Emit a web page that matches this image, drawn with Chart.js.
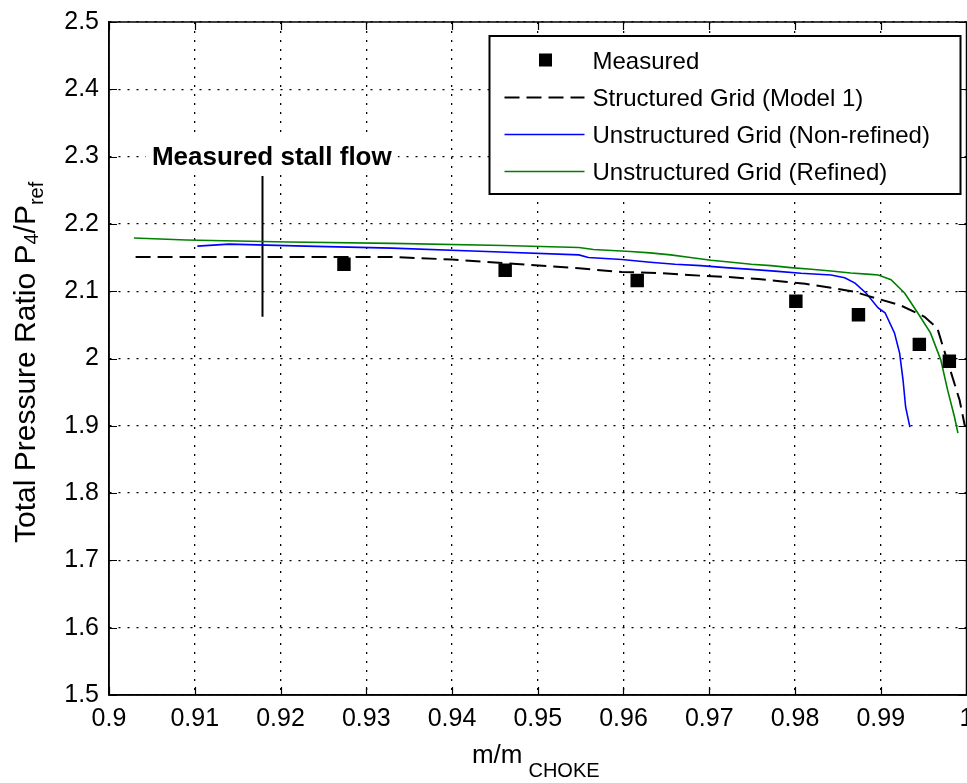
<!DOCTYPE html>
<html>
<head>
<meta charset="utf-8">
<script src="https://cdn.jsdelivr.net/npm/chart.js@4.4.1/dist/chart.umd.min.js"></script>
<style>
html,body{margin:0;padding:0;background:#fff;overflow:hidden;}
canvas{display:block;}
</style>
</head>
<body>
<canvas id="c" width="976" height="783"></canvas>
<script>
// ---- data ----
const xTickValues = [0.9,0.91,0.92,0.93,0.94,0.95,0.96,0.97,0.98,0.99,1.0];
const xTickLabels = ['0.9','0.91','0.92','0.93','0.94','0.95','0.96','0.97','0.98','0.99','1'];
const yTickValues = [1.5,1.6,1.7,1.8,1.9,2.0,2.1,2.2,2.3,2.4,2.5];
const yTickLabels = ['1.5','1.6','1.7','1.8','1.9','2','2.1','2.2','2.3','2.4','2.5'];

const measuredX = [0.9274,0.9462,0.9616,0.9801,0.9874,0.9945,0.9980];
const measuredY = [2.140,2.131,2.116,2.085,2.065,2.021,1.996];

const structX = [0.9031,0.933,0.940,0.948,0.9548,0.9598,0.9641,0.9676,0.9722,0.9757,0.9788,0.9812,0.9842,0.9870,0.9885,0.9923,0.9951,0.9966,0.9972,0.9981,0.9992,0.9998];
const structY = [2.151,2.151,2.147,2.140,2.134,2.1285,2.127,2.124,2.121,2.118,2.114,2.111,2.105,2.099,2.093,2.079,2.062,2.045,2.020,1.983,1.938,1.900];

const nonRefX = [0.9103,0.9140,0.9229,0.9330,0.9440,0.9548,0.9559,0.9598,0.9631,0.9660,0.9690,0.9719,0.9749,0.9780,0.9807,0.9842,0.9858,0.9870,0.9883,0.9897,0.9905,0.9916,0.9922,0.9926,0.9929,0.9934];
const nonRefY = [2.167,2.170,2.167,2.164,2.159,2.154,2.150,2.147,2.143,2.140,2.138,2.135,2.1325,2.1295,2.1266,2.124,2.120,2.112,2.097,2.075,2.068,2.038,2.008,1.968,1.928,1.898];

const refinedX = [0.9029,0.9090,0.9209,0.9330,0.9460,0.9548,0.9565,0.9608,0.9631,0.9655,0.9678,0.9702,0.9726,0.9749,0.9772,0.9795,0.9819,0.9842,0.9865,0.9888,0.9897,0.9912,0.9928,0.9943,0.9958,0.9970,0.9978,0.9986,0.9990];
const refinedY = [2.179,2.176,2.173,2.171,2.168,2.165,2.162,2.159,2.157,2.154,2.150,2.146,2.143,2.140,2.138,2.135,2.1325,2.130,2.127,2.125,2.124,2.117,2.097,2.068,2.038,1.998,1.953,1.913,1.889];

const stallX = [0.9179,0.9179];
const stallY = [2.062,2.271];
const stallLabel = 'Measured stall flow';
const stallLabelPos = {x:0.9050, y:2.288};

const seriesLabels = ['Measured','Structured Grid (Model 1)','Unstructured Grid (Non-refined)','Unstructured Grid (Refined)'];

const zip = (xs, ys) => xs.map((x,i)=>({x:x, y:ys[i]}));

const FONT = "'Liberation Sans', Arial, sans-serif";

// ---- plugins ----
const framePlugin = {
  id:'frame',
  afterDatasetsDraw(chart){
    const {ctx, chartArea:a, scales:{x,y}} = chart;
    ctx.save();
    ctx.strokeStyle = '#000';
    ctx.lineWidth = 1.5;
    ctx.setLineDash([]);
    ctx.strokeRect(a.left, a.top, a.right-a.left, a.bottom-a.top);
    const L = 8;
    ctx.beginPath();
    xTickValues.forEach(v=>{
      const px = Math.round(x.getPixelForValue(v))+0.5;
      ctx.moveTo(px, a.bottom); ctx.lineTo(px, a.bottom-L);
      ctx.moveTo(px, a.top); ctx.lineTo(px, a.top+L);
    });
    yTickValues.forEach(v=>{
      const py = Math.round(y.getPixelForValue(v))+0.5;
      ctx.moveTo(a.left, py); ctx.lineTo(a.left+L, py);
      ctx.moveTo(a.right, py); ctx.lineTo(a.right-L, py);
    });
    ctx.lineWidth = 1.2;
    ctx.stroke();

    // stall annotation text
    const tx = x.getPixelForValue(stallLabelPos.x);
    const ty = y.getPixelForValue(stallLabelPos.y);
    ctx.font = 'bold 26px ' + FONT;
    const tw = ctx.measureText(stallLabel).width;
    ctx.fillStyle = '#fff';
    ctx.fillRect(tx-6, ty-26, tw+12, 36);
    ctx.fillStyle = '#000';
    ctx.textBaseline = 'alphabetic';
    ctx.textAlign = 'left';
    ctx.fillText(stallLabel, tx, ty);
    ctx.restore();
  },
  afterDraw(chart){
    const {ctx, chartArea:a} = chart;
    ctx.save();
    // legend
    const bx = a.right - 477, by = a.top + 14, bw = 471, bh = 158;
    ctx.fillStyle = '#fff';
    ctx.fillRect(bx, by, bw, bh);
    ctx.strokeStyle = '#000';
    ctx.lineWidth = 2;
    ctx.strokeRect(bx, by, bw, bh);
    const rows = chart.data.datasets.filter(d=>!d.hideInLegend);
    ctx.font = '24px ' + FONT;
    ctx.textAlign = 'left';
    ctx.textBaseline = 'alphabetic';
    rows.forEach((d,i)=>{
      const cy = by + 24 + i*37;
      if (d.isMarker){
        ctx.fillStyle = d.backgroundColor;
        ctx.fillRect(bx+56-6.5, cy-6.5, 13, 13);
      } else {
        ctx.beginPath();
        ctx.strokeStyle = d.borderColor;
        ctx.lineWidth = d.borderWidth;
        ctx.setLineDash(d.borderDash || []);
        ctx.moveTo(bx+15, cy+0.5); ctx.lineTo(bx+95, cy+0.5);
        ctx.stroke();
        ctx.setLineDash([]);
      }
      ctx.fillStyle = '#000';
      ctx.fillText(d.label, bx+103, cy+9);
    });

    // y axis title
    ctx.save();
    ctx.translate(35, 543);
    ctx.rotate(-Math.PI/2);
    ctx.fillStyle = '#000';
    let px = 0;
    ctx.font = '30px ' + FONT;
    ctx.fillText('Total Pressure Ratio P', px, 0);
    px += ctx.measureText('Total Pressure Ratio P').width;
    ctx.font = '20px ' + FONT;
    ctx.fillText('4', px, 3);
    px += ctx.measureText('4').width;
    ctx.font = '30px ' + FONT;
    ctx.fillText('/P', px, 0);
    px += ctx.measureText('/P').width;
    ctx.font = '20px ' + FONT;
    ctx.fillText('ref', px, 8);
    ctx.restore();

    // x axis title
    ctx.font = '26px ' + FONT;
    const w1 = ctx.measureText('m/m').width;
    ctx.font = '20px ' + FONT;
    const w2 = ctx.measureText('CHOKE').width;
    const total = w1 + 6 + w2;
    const sx = (a.left + a.right)/2 - 2 - total/2;
    ctx.font = '26px ' + FONT;
    ctx.fillText('m/m', sx, 763);
    ctx.font = '20px ' + FONT;
    ctx.fillText('CHOKE', sx + w1 + 6, 777);
    ctx.restore();
  }
};

const gridOpts = {color:'#000', lineWidth:1.3, drawTicks:false};
const borderOpts = {display:true, color:'#000', width:1.5, dash:[2,7]};

new Chart(document.getElementById('c'), {
  type:'scatter',
  data:{
    datasets:[
      {label:seriesLabels[0], data:zip(measuredX, measuredY), isMarker:true,
       pointStyle:'rect', pointRadius:9.5, pointHoverRadius:9.5, backgroundColor:'#000', borderColor:'#000', borderWidth:0,
       showLine:false, order:0},
      {label:seriesLabels[1], data:zip(structX, structY), showLine:true, borderColor:'#000', borderWidth:2,
       borderDash:[15,7], pointRadius:0, tension:0, fill:false, order:1},
      {label:seriesLabels[2], data:zip(nonRefX, nonRefY), showLine:true, borderColor:'#0000ff', borderWidth:1.6,
       pointRadius:0, tension:0, fill:false, order:1},
      {label:seriesLabels[3], data:zip(refinedX, refinedY), showLine:true, borderColor:'#008000', borderWidth:1.6,
       pointRadius:0, tension:0, fill:false, order:1},
      {label:'stall', data:zip(stallX, stallY), showLine:true, borderColor:'#000', borderWidth:2,
       pointRadius:0, hideInLegend:true, order:1}
    ]
  },
  options:{
    responsive:false,
    animation:false,
    devicePixelRatio:1,
    layout:{padding:{top:22, right:8, left:0, bottom:0}},
    plugins:{legend:{display:false}, tooltip:{enabled:false}},
    scales:{
      x:{
        type:'linear', min:0.9, max:1.0,
        afterBuildTicks:(s)=>{ s.ticks = xTickValues.map(v=>({value:v})); },
        afterFit:(s)=>{ s.height = 88; s.paddingLeft = 0; s.paddingRight = 0; },
        grid:gridOpts, border:borderOpts,
        ticks:{color:'#000', font:{family:FONT, size:25}, padding:9, maxRotation:0, autoSkip:false,
               callback:(v,i)=>xTickLabels[i]}
      },
      y:{
        type:'linear', min:1.5, max:2.5,
        afterBuildTicks:(s)=>{ s.ticks = yTickValues.map(v=>({value:v})); },
        afterFit:(s)=>{ s.width = 109; s.paddingTop = 0; s.paddingBottom = 0; },
        grid:gridOpts, border:borderOpts,
        ticks:{color:'#000', font:{family:FONT, size:25}, padding:10, autoSkip:false,
               callback:(v,i)=>yTickLabels[i]}
      }
    }
  },
  plugins:[framePlugin]
});
</script>
</body>
</html>
